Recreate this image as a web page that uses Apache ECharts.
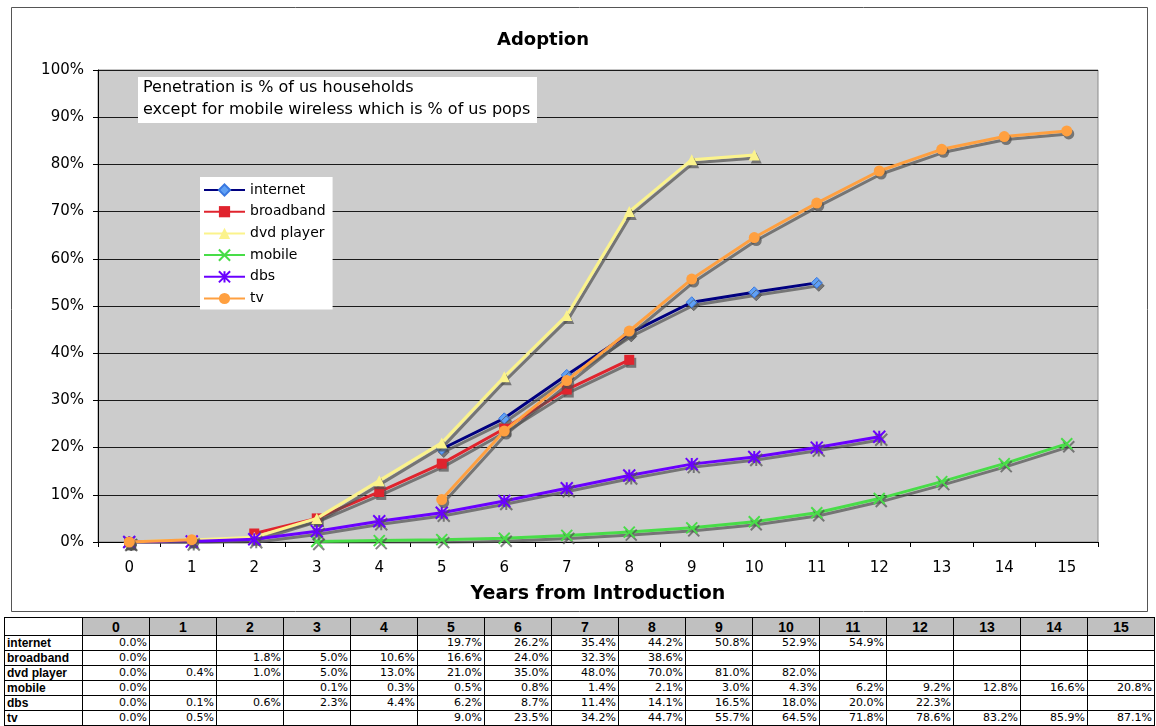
<!DOCTYPE html>
<html>
<head>
<meta charset="utf-8">
<script src="https://cdn.jsdelivr.net/npm/echarts@6/dist/echarts.min.js"></script>
<style>
  html, body { margin: 0; padding: 0; background: #fff; width: 1156px; height: 726px; overflow: hidden; }
  #chart { position: absolute; left: 0; top: 0; width: 1156px; height: 616px; }
  #tbl { position: absolute; left: 4px; top: 617px; width: 1151px; border-collapse: collapse; table-layout: fixed; }
  #tbl td, #tbl th { border: 1px solid #000; padding: 0 2px; overflow: hidden; white-space: nowrap; }
  #tbl th { background: #c0c0c0; font: bold 14px "Liberation Sans", Arial, sans-serif; height: 17px; text-align: center; }
  #tbl th.corner { background: #fff; }
  #tbl td { font: 11px "DejaVu Sans", sans-serif; height: 14px; line-height: 14px; text-align: right; }
  #tbl td.lbl { font: bold 12px "Liberation Sans", Arial, sans-serif; text-align: left; }
</style>
</head>
<body>
<div id="chart"></div>
<table id="tbl"></table>
<script>
// Years since each technology was introduced
const years = ['0','1','2','3','4','5','6','7','8','9','10','11','12','13','14','15'];

// Penetration (%) per year; null where no figure exists
const internet  = [0.0, null, null, null, null, 19.7, 26.2, 35.4, 44.2, 50.8, 52.9, 54.9, null, null, null, null];
const broadband = [0.0, null, 1.8, 5.0, 10.6, 16.6, 24.0, 32.3, 38.6, null, null, null, null, null, null, null];
const dvdPlayer = [0.0, 0.4, 1.0, 5.0, 13.0, 21.0, 35.0, 48.0, 70.0, 81.0, 82.0, null, null, null, null, null];
const mobile    = [0.0, null, null, 0.1, 0.3, 0.5, 0.8, 1.4, 2.1, 3.0, 4.3, 6.2, 9.2, 12.8, 16.6, 20.8];
const dbs       = [0.0, 0.1, 0.6, 2.3, 4.4, 6.2, 8.7, 11.4, 14.1, 16.5, 18.0, 20.0, 22.3, null, null, null];
const tv        = [0.0, 0.5, null, null, null, 9.0, 23.5, 34.2, 44.7, 55.7, 64.5, 71.8, 78.6, 83.2, 85.9, 87.1];

const seriesNames = ['internet', 'broadband', 'dvd player', 'mobile', 'dbs', 'tv'];
const seriesData  = [internet, broadband, dvdPlayer, mobile, dbs, tv];

const yTicks = [0, 10, 20, 30, 40, 50, 60, 70, 80, 90, 100];

const FONT = '"DejaVu Sans", Verdana, sans-serif';
const SHADOW = { shadowColor: 'rgba(80,80,80,0.7)', shadowBlur: 0, shadowOffsetX: 2, shadowOffsetY: 3 };

// marker and line style for each series
const styles = [
  { line: '#000080', symbol: 'diamond', size: 11, item: { color: '#5fa0f5', borderColor: '#3a78e0', borderWidth: 1 } },
  { line: '#e0242e', symbol: 'rect', size: 10, item: { color: '#e0242e' } },
  { line: '#fbf38c', symbol: 'triangle', size: 11, item: { color: '#fbf38c' } },
  { line: '#48dd48', symbol: 'path://M0,0L10,10M10,0L0,10', size: 11,
    item: { color: 'rgba(0,0,0,0)', borderColor: '#48dd48', borderWidth: 2 } },
  { line: '#6a00ff', symbol: 'path://M5,0L5,10M0,0L10,10M10,0L0,10', size: 12,
    item: { color: 'rgba(0,0,0,0)', borderColor: '#6a00ff', borderWidth: 2 } },
  { line: '#ffa040', symbol: 'circle', size: 11, item: { color: '#ffa040' } }
];

const series = seriesNames.map((name, i) => ({
  name: name,
  type: 'line',
  data: seriesData[i],
  symbol: styles[i].symbol,
  symbolSize: styles[i].size,
  showAllSymbol: true,
  connectNulls: false,
  z: 3 + i,
  lineStyle: Object.assign({ color: styles[i].line, width: 3 }, SHADOW),
  itemStyle: Object.assign({}, styles[i].item, SHADOW),
  emphasis: { disabled: true }
}));

const chart = echarts.init(document.getElementById('chart'), null, { renderer: 'canvas' });
chart.setOption({
  animation: false,
  backgroundColor: '#fff',
  title: {
    text: 'Adoption',
    left: 492, top: 26,
    textStyle: { fontFamily: FONT, fontSize: 18, fontWeight: 'bold', color: '#000' }
  },
  grid: {
    left: 98, top: 70, width: 1000, height: 472,
    show: true, backgroundColor: '#cccccc', borderColor: '#8a8a8a', borderWidth: 1
  },
  legend: {
    data: seriesNames,
    orient: 'vertical',
    left: 200, top: 177,
    backgroundColor: '#fff',
    padding: [6, 7, 4, 3],
    itemWidth: 41, itemHeight: 14, itemGap: 7.7,
    textStyle: { fontFamily: FONT, fontSize: 14, color: '#000', lineHeight: 14 }
  },
  xAxis: {
    type: 'category',
    data: years,
    boundaryGap: true,
    name: 'Years from Introduction',
    nameLocation: 'middle',
    nameGap: 43,
    nameTextStyle: { fontFamily: FONT, fontSize: 19, fontWeight: 'bold', color: '#000' },
    axisLine: { show: true, lineStyle: { color: '#000', width: 1 } },
    axisTick: { show: true, length: 5, lineStyle: { color: '#000' } },
    axisLabel: { fontFamily: FONT, fontSize: 15, color: '#000', margin: 19 },
    splitLine: { show: false }
  },
  yAxis: {
    type: 'value',
    min: yTicks[0], max: yTicks[yTicks.length - 1], interval: 10,
    axisLine: { show: true, lineStyle: { color: '#000', width: 1 } },
    axisTick: { show: true, length: 5, lineStyle: { color: '#000' } },
    axisLabel: { fontFamily: FONT, fontSize: 15, color: '#000', margin: 14, formatter: '{value}%' },
    splitLine: { show: true, lineStyle: { color: '#1a1a1a', width: 1 } }
  },
  graphic: [
    {
      type: 'rect', z: -10, silent: true,
      shape: { x: 11.5, y: 7.5, width: 1136, height: 604 },
      style: { fill: 'none', stroke: '#555', lineWidth: 1 }
    },
    { type: 'rect', z: 50, silent: true, shape: { x: 138, y: 77, width: 399, height: 46 }, style: { fill: '#fff' } },
    { type: 'text', z: 51, silent: true, x: 143, y: 88, style: { text: 'Penetration is % of us households', font: '16px ' + FONT, fill: '#000', verticalAlign: 'middle' } },
    { type: 'text', z: 51, silent: true, x: 143, y: 110, style: { text: 'except for mobile wireless which is % of us pops', font: '16px ' + FONT, fill: '#000', verticalAlign: 'middle' } }
  ],
  series: series
});

// data table beneath the chart
(function buildTable() {
  const tbl = document.getElementById('tbl');
  let html = '<colgroup><col style="width:78px">';
  years.forEach(() => { html += '<col>'; });
  html += '</colgroup><tr><th class="corner"></th>';
  years.forEach(y => { html += '<th>' + y + '</th>'; });
  html += '</tr>';
  seriesNames.forEach((name, i) => {
    html += '<tr><td class="lbl">' + name + '</td>';
    seriesData[i].forEach(v => {
      html += '<td>' + (v === null ? '' : v.toFixed(1) + '%') + '</td>';
    });
    html += '</tr>';
  });
  tbl.innerHTML = html;
})();
</script>
</body>
</html>
